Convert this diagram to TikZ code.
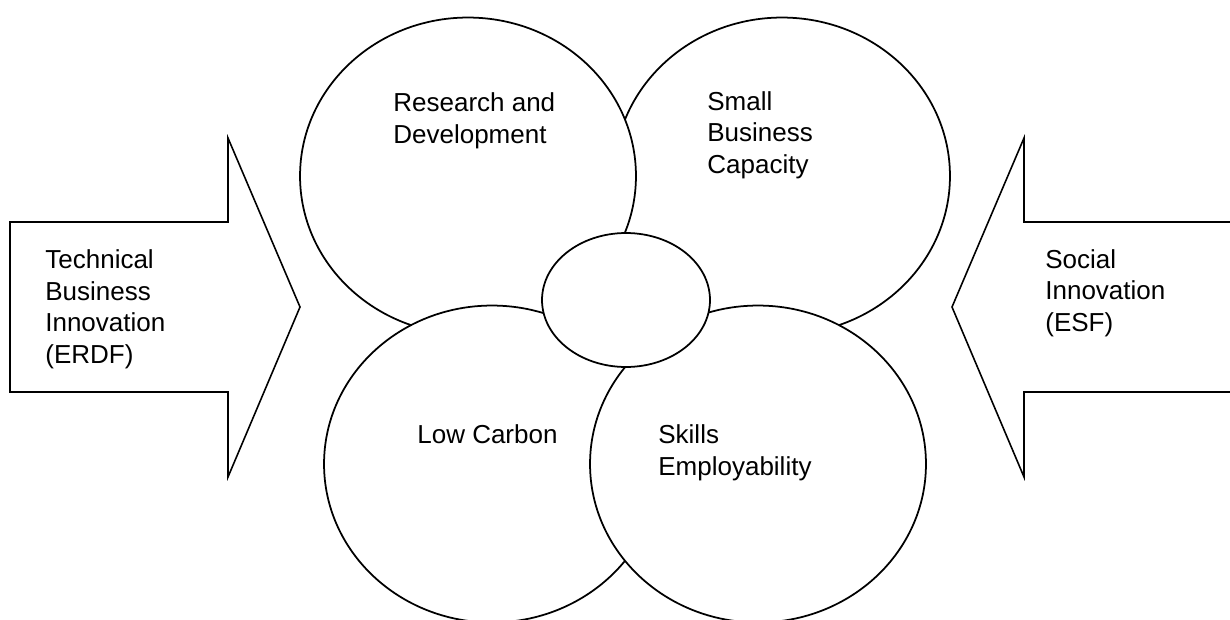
\documentclass[tikz,border=0pt]{standalone}
\usepackage{fontspec}
\setmainfont{Liberation Sans}
\usetikzlibrary{shapes.geometric}

\begin{document}
\begin{tikzpicture}[
      x=0.02cm, y=-0.02cm,
      blob/.style={ellipse, draw, fill=white, line width=1pt,
                   minimum width=6.72cm, minimum height=6.34cm, inner sep=0pt},
      hub/.style={ellipse, draw, fill=white, line width=1pt,
                  minimum width=3.36cm, minimum height=2.68cm, inner sep=0pt},
      lbl/.style={anchor=base west, align=left, inner sep=0pt,
                  font=\fontsize{14.8}{17.9}\selectfont},
      bigarrow/.style={draw, fill=white, line width=0.9pt, line join=miter}
    ]
    \clip (0,0) rectangle (1230,619);

    % block arrows
    \draw[bigarrow] (10,222) -- (228,222) -- (228,138) -- (300,307)
                    -- (228,477) -- (228,392) -- (10,392) -- cycle;
    \draw[bigarrow] (1232,222) -- (1024,222) -- (1024,138) -- (952,307)
                    -- (1024,477) -- (1024,392) -- (1232,392);

    % circles, back to front
    \node[blob] (sbc)  at (782,176) {};
    \node[blob] (rnd)  at (468,176) {};
    \node[blob] (lowc) at (492,464) {};
    \node[blob] (skl)  at (758,464) {};
    \node[hub]  (core) at (626,300) {};

    % labels (placed at the baseline of their last line)
    \node[lbl] (erdf)  at (45,363)   {Technical\\Business\\Innovation\\(ERDF)};
    \node[lbl] (esf)   at (1045,331) {Social\\Innovation\\(ESF)};
    \node[lbl] (rndt)  at (393,143)  {Research and\\Development};
    \node[lbl] (sbct)  at (707,173)  {Small\\Business\\Capacity};
    \node[lbl] (lowct) at (417,443)  {Low Carbon};
    \node[lbl] (sklt)  at (658,475)  {Skills\\Employability};
\end{tikzpicture}
\end{document}
